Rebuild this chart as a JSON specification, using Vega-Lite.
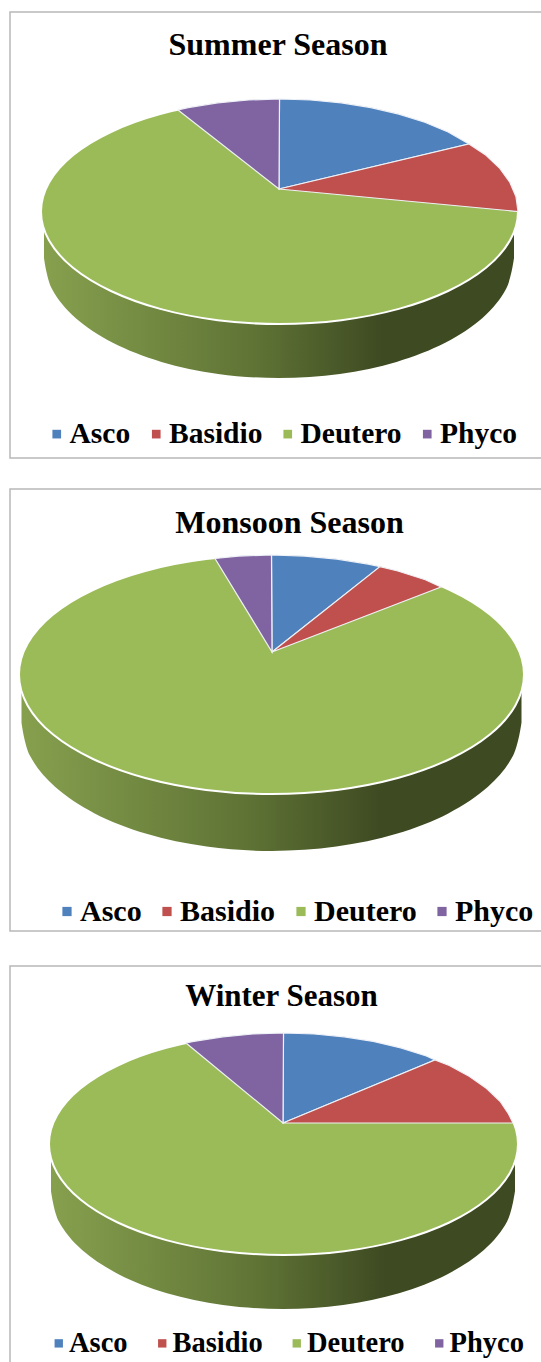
{"$schema":"https://vega.github.io/schema/vega-lite/v6.json","padding":{"left":9,"top":11,"right":0,"bottom":0},"background":"white","config":{"style":{"cell":{"stroke":"#b8b8b8","strokeWidth":1.5}}},
"datasets":{
"ellipse":[
{"panel":"Summer","category":"Deutero","i":0,"x":278.5,"y":99},{"panel":"Summer","category":"Deutero","i":1,"x":340.3,"y":102.8},{"panel":"Summer","category":"Deutero","i":2,"x":397.8,"y":114.1},{"panel":"Summer","category":"Deutero","i":3,"x":447.1,"y":132},{"panel":"Summer","category":"Deutero","i":4,"x":485,"y":155.2},{"panel":"Summer","category":"Deutero","i":5,"x":508.9,"y":182.4},{"panel":"Summer","category":"Deutero","i":6,"x":517,"y":211.5},{"panel":"Summer","category":"Deutero","i":7,"x":508.9,"y":240.6},{"panel":"Summer","category":"Deutero","i":8,"x":485,"y":267.8},{"panel":"Summer","category":"Deutero","i":9,"x":447.1,"y":291},{"panel":"Summer","category":"Deutero","i":10,"x":397.8,"y":308.9},{"panel":"Summer","category":"Deutero","i":11,"x":340.3,"y":320.2},{"panel":"Summer","category":"Deutero","i":12,"x":278.5,"y":324},{"panel":"Summer","category":"Deutero","i":13,"x":216.7,"y":320.2},{"panel":"Summer","category":"Deutero","i":14,"x":159.2,"y":308.9},{"panel":"Summer","category":"Deutero","i":15,"x":109.9,"y":291},{"panel":"Summer","category":"Deutero","i":16,"x":72,"y":267.8},{"panel":"Summer","category":"Deutero","i":17,"x":48.1,"y":240.6},{"panel":"Summer","category":"Deutero","i":18,"x":40,"y":211.5},{"panel":"Summer","category":"Deutero","i":19,"x":48.1,"y":182.4},{"panel":"Summer","category":"Deutero","i":20,"x":72,"y":155.2},{"panel":"Summer","category":"Deutero","i":21,"x":109.9,"y":132},{"panel":"Summer","category":"Deutero","i":22,"x":159.2,"y":114.1},{"panel":"Summer","category":"Deutero","i":23,"x":216.7,"y":102.8},
{"panel":"Monsoon","category":"Deutero","i":0,"x":270.5,"y":555},{"panel":"Monsoon","category":"Deutero","i":1,"x":335.9,"y":559.1},{"panel":"Monsoon","category":"Deutero","i":2,"x":396.8,"y":571},{"panel":"Monsoon","category":"Deutero","i":3,"x":449,"y":590},{"panel":"Monsoon","category":"Deutero","i":4,"x":489.2,"y":614.7},{"panel":"Monsoon","category":"Deutero","i":5,"x":514.4,"y":643.6},{"panel":"Monsoon","category":"Deutero","i":6,"x":523,"y":674.5},{"panel":"Monsoon","category":"Deutero","i":7,"x":514.4,"y":705.4},{"panel":"Monsoon","category":"Deutero","i":8,"x":489.2,"y":734.3},{"panel":"Monsoon","category":"Deutero","i":9,"x":449,"y":759},{"panel":"Monsoon","category":"Deutero","i":10,"x":396.8,"y":778},{"panel":"Monsoon","category":"Deutero","i":11,"x":335.9,"y":789.9},{"panel":"Monsoon","category":"Deutero","i":12,"x":270.5,"y":794},{"panel":"Monsoon","category":"Deutero","i":13,"x":205.1,"y":789.9},{"panel":"Monsoon","category":"Deutero","i":14,"x":144.2,"y":778},{"panel":"Monsoon","category":"Deutero","i":15,"x":92,"y":759},{"panel":"Monsoon","category":"Deutero","i":16,"x":51.8,"y":734.3},{"panel":"Monsoon","category":"Deutero","i":17,"x":26.6,"y":705.4},{"panel":"Monsoon","category":"Deutero","i":18,"x":18,"y":674.5},{"panel":"Monsoon","category":"Deutero","i":19,"x":26.6,"y":643.6},{"panel":"Monsoon","category":"Deutero","i":20,"x":51.8,"y":614.7},{"panel":"Monsoon","category":"Deutero","i":21,"x":92,"y":590},{"panel":"Monsoon","category":"Deutero","i":22,"x":144.2,"y":571},{"panel":"Monsoon","category":"Deutero","i":23,"x":205.1,"y":559.1},
{"panel":"Winter","category":"Deutero","i":0,"x":282.5,"y":1032},{"panel":"Winter","category":"Deutero","i":1,"x":343.2,"y":1035.8},{"panel":"Winter","category":"Deutero","i":2,"x":399.8,"y":1046.9},{"panel":"Winter","category":"Deutero","i":3,"x":448.3,"y":1064.5},{"panel":"Winter","category":"Deutero","i":4,"x":485.6,"y":1087.5},{"panel":"Winter","category":"Deutero","i":5,"x":509,"y":1114.3},{"panel":"Winter","category":"Deutero","i":6,"x":517,"y":1143},{"panel":"Winter","category":"Deutero","i":7,"x":509,"y":1171.7},{"panel":"Winter","category":"Deutero","i":8,"x":485.6,"y":1198.5},{"panel":"Winter","category":"Deutero","i":9,"x":448.3,"y":1221.5},{"panel":"Winter","category":"Deutero","i":10,"x":399.8,"y":1239.1},{"panel":"Winter","category":"Deutero","i":11,"x":343.2,"y":1250.2},{"panel":"Winter","category":"Deutero","i":12,"x":282.5,"y":1254},{"panel":"Winter","category":"Deutero","i":13,"x":221.8,"y":1250.2},{"panel":"Winter","category":"Deutero","i":14,"x":165.2,"y":1239.1},{"panel":"Winter","category":"Deutero","i":15,"x":116.7,"y":1221.5},{"panel":"Winter","category":"Deutero","i":16,"x":79.4,"y":1198.5},{"panel":"Winter","category":"Deutero","i":17,"x":56,"y":1171.7},{"panel":"Winter","category":"Deutero","i":18,"x":48,"y":1143},{"panel":"Winter","category":"Deutero","i":19,"x":56,"y":1114.3},{"panel":"Winter","category":"Deutero","i":20,"x":79.4,"y":1087.5},{"panel":"Winter","category":"Deutero","i":21,"x":116.7,"y":1064.5},{"panel":"Winter","category":"Deutero","i":22,"x":165.2,"y":1046.9},{"panel":"Winter","category":"Deutero","i":23,"x":221.8,"y":1035.8}
],
"slices":[
{"panel":"Summer","category":"Asco","i":0,"x":278,"y":189},{"panel":"Summer","category":"Asco","i":1,"x":278.5,"y":99},{"panel":"Summer","category":"Asco","i":2,"x":309.6,"y":100},{"panel":"Summer","category":"Asco","i":3,"x":340.3,"y":102.8},{"panel":"Summer","category":"Asco","i":4,"x":369.8,"y":107.6},{"panel":"Summer","category":"Asco","i":5,"x":397.8,"y":114.1},{"panel":"Summer","category":"Asco","i":6,"x":423.7,"y":122.3},{"panel":"Summer","category":"Asco","i":7,"x":447.1,"y":132},{"panel":"Summer","category":"Asco","i":8,"x":468,"y":144},
{"panel":"Summer","category":"Basidio","i":0,"x":278,"y":189},{"panel":"Summer","category":"Basidio","i":1,"x":468,"y":144},{"panel":"Summer","category":"Basidio","i":2,"x":485,"y":155.2},{"panel":"Summer","category":"Basidio","i":3,"x":498.8,"y":168.4},{"panel":"Summer","category":"Basidio","i":4,"x":508.9,"y":182.4},{"panel":"Summer","category":"Basidio","i":5,"x":515,"y":196.8},{"panel":"Summer","category":"Basidio","i":6,"x":517,"y":211.5},
{"panel":"Summer","category":"Phyco","i":0,"x":278,"y":189},{"panel":"Summer","category":"Phyco","i":1,"x":177,"y":110},{"panel":"Summer","category":"Phyco","i":2,"x":187.2,"y":107.6},{"panel":"Summer","category":"Phyco","i":3,"x":216.7,"y":102.8},{"panel":"Summer","category":"Phyco","i":4,"x":247.4,"y":100},{"panel":"Summer","category":"Phyco","i":5,"x":278.5,"y":99},
{"panel":"Monsoon","category":"Asco","i":0,"x":271,"y":652},{"panel":"Monsoon","category":"Asco","i":1,"x":270.5,"y":555},{"panel":"Monsoon","category":"Asco","i":2,"x":303.5,"y":556.1},{"panel":"Monsoon","category":"Asco","i":3,"x":335.9,"y":559.1},{"panel":"Monsoon","category":"Asco","i":4,"x":367.1,"y":564.1},{"panel":"Monsoon","category":"Asco","i":5,"x":379,"y":566.6},
{"panel":"Monsoon","category":"Basidio","i":0,"x":271,"y":652},{"panel":"Monsoon","category":"Basidio","i":1,"x":379,"y":566.6},{"panel":"Monsoon","category":"Basidio","i":2,"x":396.8,"y":571},{"panel":"Monsoon","category":"Basidio","i":3,"x":424.3,"y":579.7},{"panel":"Monsoon","category":"Basidio","i":4,"x":440,"y":587},
{"panel":"Monsoon","category":"Phyco","i":0,"x":271,"y":652},{"panel":"Monsoon","category":"Phyco","i":1,"x":214,"y":558.5},{"panel":"Monsoon","category":"Phyco","i":2,"x":237.5,"y":556.1},{"panel":"Monsoon","category":"Phyco","i":3,"x":270.5,"y":555},
{"panel":"Winter","category":"Asco","i":0,"x":282,"y":1122},{"panel":"Winter","category":"Asco","i":1,"x":282.5,"y":1032},{"panel":"Winter","category":"Asco","i":2,"x":313.1,"y":1033},{"panel":"Winter","category":"Asco","i":3,"x":343.2,"y":1035.8},{"panel":"Winter","category":"Asco","i":4,"x":372.3,"y":1040.4},{"panel":"Winter","category":"Asco","i":5,"x":399.8,"y":1046.9},{"panel":"Winter","category":"Asco","i":6,"x":425.3,"y":1055},{"panel":"Winter","category":"Asco","i":7,"x":434,"y":1059},
{"panel":"Winter","category":"Basidio","i":0,"x":282,"y":1122},{"panel":"Winter","category":"Basidio","i":1,"x":434,"y":1059},{"panel":"Winter","category":"Basidio","i":2,"x":448.3,"y":1064.5},{"panel":"Winter","category":"Basidio","i":3,"x":468.5,"y":1075.4},{"panel":"Winter","category":"Basidio","i":4,"x":485.6,"y":1087.5},{"panel":"Winter","category":"Basidio","i":5,"x":499.2,"y":1100.5},{"panel":"Winter","category":"Basidio","i":6,"x":507.5,"y":1113},{"panel":"Winter","category":"Basidio","i":7,"x":512,"y":1122},
{"panel":"Winter","category":"Phyco","i":0,"x":282,"y":1122},{"panel":"Winter","category":"Phyco","i":1,"x":185,"y":1042},{"panel":"Winter","category":"Phyco","i":2,"x":192.7,"y":1040.4},{"panel":"Winter","category":"Phyco","i":3,"x":221.8,"y":1035.8},{"panel":"Winter","category":"Phyco","i":4,"x":251.9,"y":1033},{"panel":"Winter","category":"Phyco","i":5,"x":282.5,"y":1032}
],
"walls":[
{"panel":"Summer","x":43,"y":211.5,"y2":258},{"panel":"Summer","x":51,"y":211.5,"y2":289.1},{"panel":"Summer","x":74.5,"y":211.5,"y2":318},{"panel":"Summer","x":111.8,"y":211.5,"y2":342.8},{"panel":"Summer","x":160.5,"y":211.5,"y2":361.9},{"panel":"Summer","x":217.2,"y":211.5,"y2":373.9},{"panel":"Summer","x":278,"y":211.5,"y2":378},{"panel":"Summer","x":338.8,"y":211.5,"y2":373.9},{"panel":"Summer","x":395.5,"y":211.5,"y2":361.9},{"panel":"Summer","x":444.2,"y":211.5,"y2":342.8},{"panel":"Summer","x":481.5,"y":211.5,"y2":318},{"panel":"Summer","x":505,"y":211.5,"y2":289.1},{"panel":"Summer","x":513,"y":211.5,"y2":258},
{"panel":"Monsoon","x":20.5,"y":674.5,"y2":722.5},{"panel":"Monsoon","x":29,"y":674.5,"y2":755.8},{"panel":"Monsoon","x":54,"y":674.5,"y2":786.8},{"panel":"Monsoon","x":93.7,"y":674.5,"y2":813.4},{"panel":"Monsoon","x":145.5,"y":674.5,"y2":833.8},{"panel":"Monsoon","x":205.7,"y":674.5,"y2":846.6},{"panel":"Monsoon","x":270.5,"y":674.5,"y2":851},{"panel":"Monsoon","x":335.3,"y":674.5,"y2":846.6},{"panel":"Monsoon","x":395.5,"y":674.5,"y2":833.8},{"panel":"Monsoon","x":447.3,"y":674.5,"y2":813.4},{"panel":"Monsoon","x":487,"y":674.5,"y2":786.8},{"panel":"Monsoon","x":512,"y":674.5,"y2":755.8},{"panel":"Monsoon","x":520.5,"y":674.5,"y2":722.5},
{"panel":"Winter","x":50,"y":1143,"y2":1190},{"panel":"Winter","x":57.9,"y":1143,"y2":1220.6},{"panel":"Winter","x":81.1,"y":1143,"y2":1249},{"panel":"Winter","x":118,"y":1143,"y2":1273.4},{"panel":"Winter","x":166,"y":1143,"y2":1292.2},{"panel":"Winter","x":221.9,"y":1143,"y2":1304},{"panel":"Winter","x":282,"y":1143,"y2":1308},{"panel":"Winter","x":342.1,"y":1143,"y2":1304},{"panel":"Winter","x":398,"y":1143,"y2":1292.2},{"panel":"Winter","x":446,"y":1143,"y2":1273.4},{"panel":"Winter","x":482.9,"y":1143,"y2":1249},{"panel":"Winter","x":506.1,"y":1143,"y2":1220.6},{"panel":"Winter","x":514,"y":1143,"y2":1190}
]},
"spacing":33,
"resolve":{"scale":{"x":"independent","y":"independent","fill":"independent"}},
"vconcat":[
{"spacing":29,"resolve":{"scale":{"x":"independent","y":"independent","fill":"independent"}},"vconcat":[
{"width":534,"height":446,
"encoding":{"x":{"field":"x","type":"quantitative","axis":null,"scale":{"domain":[9,543],"nice":false,"zero":false}},"y":{"field":"y","type":"quantitative","axis":null,"scale":{"domain":[12,458],"reverse":true,"nice":false,"zero":false}}},
"layer":[
{"data":{"name":"walls"},"transform":[{"filter":"datum.panel==='Summer'"}],"mark":{"type":"area","interpolate":"cardinal","fill":{"x1":0,"y1":0,"x2":1,"y2":0,"gradient":"linear","stops":[{"offset":0,"color":"#86a04e"},{"offset":0.45,"color":"#5f7335"},{"offset":0.72,"color":"#3e4a22"},{"offset":1,"color":"#3e4a22"}]}},"encoding":{"y2":{"field":"y2"}}},
{"data":{"name":"ellipse"},"transform":[{"filter":"datum.panel==='Summer'"}],"mark":{"type":"line","interpolate":"cardinal-closed","filled":true,"stroke":"white","strokeWidth":2},"encoding":{"order":{"field":"i"},"fill":{"field":"category","type":"nominal","scale":{"domain":["Asco","Basidio","Deutero","Phyco"],"range":["#4f81bd","#c0504d","#9bbb59","#8064a2"]},"legend":{"orient":"none","legendX":32,"legendY":407,"title":null,"direction":"horizontal","columns":4,"symbolType":"square","symbolSize":75,"symbolStrokeWidth":0,"labelFont":"Liberation Serif","labelFontWeight":"bold","labelFontSize":29.5,"labelColor":"#000","labelOffset":-2,"columnPadding":10.5}}}},
{"data":{"name":"slices"},"transform":[{"filter":"datum.panel==='Summer'"}],"mark":{"type":"line","interpolate":"linear-closed","filled":true,"stroke":"#eef1f6","strokeWidth":1.2},"encoding":{"order":{"field":"i"},"fill":{"field":"category","type":"nominal","legend":null}}},
{"data":{"values":[{"label":"Summer Season","x":277,"y":54.5}]},"mark":{"type":"text","font":"Liberation Serif","fontWeight":"bold","fontSize":32,"color":"#000","align":"center","baseline":"alphabetic"},"encoding":{"text":{"field":"label"}}}
]},
{"width":534,"height":442,
"encoding":{"x":{"field":"x","type":"quantitative","axis":null,"scale":{"domain":[9,543],"nice":false,"zero":false}},"y":{"field":"y","type":"quantitative","axis":null,"scale":{"domain":[489,931],"reverse":true,"nice":false,"zero":false}}},
"layer":[
{"data":{"name":"walls"},"transform":[{"filter":"datum.panel==='Monsoon'"}],"mark":{"type":"area","interpolate":"cardinal","fill":{"x1":0,"y1":0,"x2":1,"y2":0,"gradient":"linear","stops":[{"offset":0,"color":"#86a04e"},{"offset":0.45,"color":"#5f7335"},{"offset":0.72,"color":"#3e4a22"},{"offset":1,"color":"#3e4a22"}]}},"encoding":{"y2":{"field":"y2"}}},
{"data":{"name":"ellipse"},"transform":[{"filter":"datum.panel==='Monsoon'"}],"mark":{"type":"line","interpolate":"cardinal-closed","filled":true,"stroke":"white","strokeWidth":2},"encoding":{"order":{"field":"i"},"fill":{"field":"category","type":"nominal","scale":{"domain":["Asco","Basidio","Deutero","Phyco"],"range":["#4f81bd","#c0504d","#9bbb59","#8064a2"]},"legend":{"orient":"none","legendX":42,"legendY":407.5,"title":null,"direction":"horizontal","columns":4,"symbolType":"square","symbolSize":85,"symbolStrokeWidth":0,"labelFont":"Liberation Serif","labelFontWeight":"bold","labelFontSize":30,"labelColor":"#000","labelOffset":-2,"columnPadding":10}}}},
{"data":{"name":"slices"},"transform":[{"filter":"datum.panel==='Monsoon'"}],"mark":{"type":"line","interpolate":"linear-closed","filled":true,"stroke":"#eef1f6","strokeWidth":1.2},"encoding":{"order":{"field":"i"},"fill":{"field":"category","type":"nominal","legend":null}}},
{"data":{"values":[{"label":"Monsoon Season","x":288.5,"y":532.5}]},"mark":{"type":"text","font":"Liberation Serif","fontWeight":"bold","fontSize":32,"color":"#000","align":"center","baseline":"alphabetic"},"encoding":{"text":{"field":"label"}}}
]}
]},
{"width":534,"height":399,
"encoding":{"x":{"field":"x","type":"quantitative","axis":null,"scale":{"domain":[9,543],"nice":false,"zero":false}},"y":{"field":"y","type":"quantitative","axis":null,"scale":{"domain":[965,1364],"reverse":true,"nice":false,"zero":false}}},
"layer":[
{"data":{"name":"walls"},"transform":[{"filter":"datum.panel==='Winter'"}],"mark":{"type":"area","interpolate":"cardinal","fill":{"x1":0,"y1":0,"x2":1,"y2":0,"gradient":"linear","stops":[{"offset":0,"color":"#86a04e"},{"offset":0.45,"color":"#5f7335"},{"offset":0.72,"color":"#3e4a22"},{"offset":1,"color":"#3e4a22"}]}},"encoding":{"y2":{"field":"y2"}}},
{"data":{"name":"ellipse"},"transform":[{"filter":"datum.panel==='Winter'"}],"mark":{"type":"line","interpolate":"cardinal-closed","filled":true,"stroke":"white","strokeWidth":2},"encoding":{"order":{"field":"i"},"fill":{"field":"category","type":"nominal","scale":{"domain":["Asco","Basidio","Deutero","Phyco"],"range":["#4f81bd","#c0504d","#9bbb59","#8064a2"]},"legend":{"orient":"none","legendX":34.5,"legendY":363,"title":null,"direction":"horizontal","columns":4,"symbolType":"square","symbolSize":70,"symbolStrokeWidth":0,"labelFont":"Liberation Serif","labelFontWeight":"bold","labelFontSize":28.5,"labelColor":"#000","labelOffset":-4,"columnPadding":19.5}}}},
{"data":{"name":"slices"},"transform":[{"filter":"datum.panel==='Winter'"}],"mark":{"type":"line","interpolate":"linear-closed","filled":true,"stroke":"#eef1f6","strokeWidth":1.2},"encoding":{"order":{"field":"i"},"fill":{"field":"category","type":"nominal","legend":null}}},
{"data":{"values":[{"label":"Winter Season","x":280.5,"y":1005}]},"mark":{"type":"text","font":"Liberation Serif","fontWeight":"bold","fontSize":31,"color":"#000","align":"center","baseline":"alphabetic"},"encoding":{"text":{"field":"label"}}}
]}
]}
